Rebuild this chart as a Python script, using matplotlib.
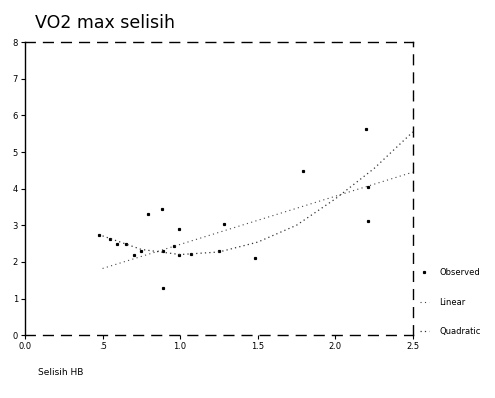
import numpy as np
import matplotlib
matplotlib.use('Agg')
from matplotlib import pyplot as plt

# Observed points (Selisih HB, VO2 max selisih)
obs_x = [0.48, 0.55, 0.59, 0.65, 0.70, 0.75, 0.79, 0.88, 0.89, 0.89, 0.96,
         0.99, 0.99, 1.07, 1.25, 1.28, 1.48, 1.79, 2.20, 2.21, 2.21]
obs_y = [2.73, 2.62, 2.50, 2.49, 2.20, 2.30, 3.30, 3.44, 1.28, 2.30, 2.43,
         2.90, 2.19, 2.21, 2.30, 3.03, 2.10, 4.48, 5.63, 4.04, 3.11]

# Fitted lines
lin_x = [0.5, 2.5]
lin_y = [1.82, 4.45]
quad_x = [0.5, 0.75, 1.0, 1.25, 1.5, 1.75, 2.0, 2.25, 2.5]
quad_y = [2.71, 2.34, 2.20, 2.27, 2.54, 3.00, 3.72, 4.55, 5.55]

xticks = [0.0, 0.5, 1.0, 1.5, 2.0, 2.5]
xlabels = ['0.0', '.5', '1.0', '1.5', '2.0', '2.5']
yticks = list(range(9))

fig = plt.figure(figsize=(4.95, 3.98), dpi=100)
ax = fig.add_axes([0.0505, 0.158, 0.7835, 0.736])

ax.plot(obs_x, obs_y, linestyle='none', marker='s', markersize=1.3,
        color='black', label='Observed')
ax.plot(lin_x, lin_y, linestyle=(0, (1, 3)), linewidth=0.8, color='#444444',
        label='Linear')
ax.plot(quad_x, quad_y, linestyle=(0, (1, 2.5)), linewidth=0.9, color='#333333',
        label='Quadratic')

ax.set_xlim(0, 2.5)
ax.set_ylim(0, 8)
ax.set_xticks(xticks)
ax.set_xticklabels(xlabels)
ax.set_yticks(yticks)
ax.tick_params(labelsize=6, length=3, width=0.8, pad=2, colors='black')

ax.spines['left'].set_linewidth(1.0)
for s in ['top', 'right', 'bottom']:
    ax.spines[s].set_linestyle((0, (7, 6)))
    ax.spines[s].set_linewidth(1.0)

fig.text(0.07, 0.93, 'VO2 max selisih', fontsize=12.5, ha='left', va='baseline')
fig.text(0.077, 0.065, 'Selisih HB', fontsize=6.5, ha='left', va='center')

ax.legend(loc='lower left', bbox_to_anchor=(1.0, -0.03), frameon=False,
          fontsize=6, handlelength=1.0, handletextpad=1.3, labelspacing=2.5,
          borderaxespad=0.5)

fig.savefig('out.png', dpi=100)
